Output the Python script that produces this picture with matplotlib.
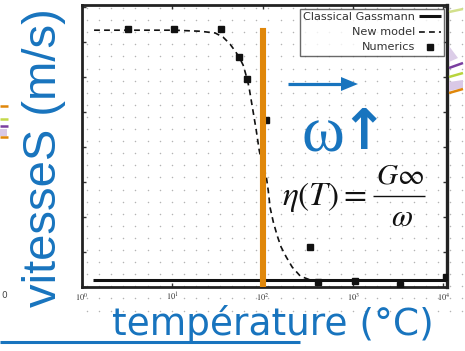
import numpy as np
import matplotlib
matplotlib.use("Agg")
import matplotlib.pyplot as plt
from matplotlib.patches import Polygon, Rectangle

# ---- data -------------------------------------------------------------
# frequency axis (log) and velocity values for the three models
gassmann_f = [1.32, 10800]
gassmann_v = [0.20, 0.20]

newmodel_f = [1.36, 3.2, 10.5, 20.3, 29.8, 36.5, 43.6, 49.6, 54.9, 60.8, 64, 67.3,
              70.8, 74.6, 78.5, 84.7, 91.5, 98.7, 109, 115, 121, 131, 145, 160,
              182, 212, 261, 336, 434]
newmodel_v = [7.34, 7.34, 7.34, 7.31, 7.26, 7.14, 6.94, 6.74, 6.57, 6.34, 6.14, 5.94,
              5.69, 5.34, 5.00, 4.49, 3.91, 3.49, 3.20, 2.77, 2.26, 1.86, 1.46, 1.14,
              0.86, 0.57, 0.31, 0.20, 0.20]

numerics_f = [3.2, 10.5, 34.7, 55, 67, 109, 336, 412, 1059, 3340, 10800]
numerics_v = [7.37, 7.37, 7.37, 6.57, 5.94, 4.77, 1.14, 0.14, 0.17, 0.06, 0.29]

transition_f = 100          # vertical marker
tick_exponents = [0, 1, 2, 3, 4]
legend_labels = ["Classical Gassmann", "New model", "Numerics"]

BLUE = "#1874BE"
ORANGE = "#E0870A"
W, H = 465, 351

plt.rcParams["mathtext.fontset"] = "stix"
fig = plt.figure(figsize=(W / 100, H / 100), dpi=100, facecolor="white")

def fx(px):
    return px / W

def fy(py):
    return 1 - py / H

# background dotted page texture
bg = fig.add_axes([0, 0, 1, 1], zorder=0)
bg.set_xlim(0, W)
bg.set_ylim(H, 0)
bg.axis("off")
gx, gy = np.meshgrid(np.arange(87, 465, 12.1), np.arange(8, 322, 12.1))
bg.scatter(gx.ravel(), gy.ravel(), s=1.2, color="#b4b4b4", lw=0)

# main chart
ax = fig.add_axes([fx(82), fy(287), fx(447 - 82), (287 - 5) / H], zorder=1)
ax.patch.set_alpha(0)
ax.set_xscale("log")
ax.set_xlim(1, 10 ** 4.04)
ax.set_ylim(0, 8.06)

ax.plot(gassmann_f, gassmann_v, color="#111111", lw=2.2, solid_capstyle="butt",
        label=legend_labels[0], zorder=3)
ax.plot(newmodel_f, newmodel_v, color="#111111", lw=1.2, ls=(0, (3.5, 2.5)),
        label=legend_labels[1], zorder=3)
ax.plot(numerics_f, numerics_v, ls="none", marker="s", ms=3.8, color="#111111",
        label=legend_labels[2], zorder=4)
ax.axvline(transition_f, ymin=0, ymax=(287 - 31) / 282, color=ORANGE, lw=4.4, zorder=5)

ax.set_xticks([10.0 ** e for e in tick_exponents])
ax.set_xticklabels([rf"$10^{{{e}}}$" for e in tick_exponents], fontsize=6,
                   color="#444444")
ax.xaxis.set_minor_locator(matplotlib.ticker.NullLocator())
ax.set_yticks(np.arange(0, 9))
ax.set_yticklabels([])
ax.tick_params(direction="in", length=3, width=1, top=True, right=True,
               colors="#333333", pad=3)
for side, lw in (("left", 2), ("bottom", 2), ("top", 2), ("right", 2.4)):
    ax.spines[side].set_linewidth(lw)
    ax.spines[side].set_color("#222222")

leg = ax.legend(loc="upper right", bbox_to_anchor=(fx(444), fy(9)),
                bbox_transform=fig.transFigure, markerfirst=False,
                fontsize=8.1, frameon=True, fancybox=False, borderpad=0.3,
                labelspacing=0.45, handlelength=1.9, handletextpad=0.4,
                borderaxespad=0)
leg.get_frame().set_edgecolor("#444444")
leg.get_frame().set_linewidth(1.0)
for t in leg.get_texts():
    t.set_color("#333333")

# overlay annotations in pixel coordinates
ov = fig.add_axes([0, 0, 1, 1], zorder=2)
ov.set_xlim(0, W)
ov.set_ylim(H, 0)
ov.axis("off")

ov.plot([288, 343], [84, 84], color=BLUE, lw=2.3, solid_capstyle="butt")
ov.add_patch(Polygon([(341, 77), (358, 84), (341, 91)], closed=True, color=BLUE, lw=0))
ov.plot([0, 300], [341.5, 341.5], color=BLUE, lw=2.2, solid_capstyle="butt")

# fragments of the neighbouring chart at the edges
edge_segments = [
    ((0, 8), (106, 106), "#E0870A"),
    ((0, 8), (119, 119), "#C4D94A"),
    ((0, 8), (126, 126), "#7A3FA0"),
    ((0, 8), (137, 137), "#E0870A"),
    ((449, 463), (12, 9), "#D2E08C"),
    ((449, 463), (68, 63), "#7A3FA0"),
    ((449, 463), (77, 73), "#B8D43C"),
    ((449, 463), (93, 89), "#E0870A"),
]
for xs, ys, c in edge_segments:
    ov.plot(xs, ys, color=c, lw=1.8, solid_capstyle="butt")
ov.add_patch(Rectangle((0, 129), 7, 7, color="#D9C8E6", lw=0))
ov.add_patch(Polygon([(449, 46), (458, 58), (449, 62)], closed=True, color="#DCCDE8", lw=0))
ov.add_patch(Polygon([(449, 82), (463, 80), (463, 88), (449, 91)], closed=True,
                     color="#D9C8E6", lw=0))
ov.text(7, 295, "0", fontsize=6.5, color="#444444", ha="right", va="center")

# fraction bar of the viscosity formula
ov.plot([373, 425], [196, 196], color="#111111", lw=1.0, solid_capstyle="butt")

# axis titles and annotations
fig.text(fx(44.5), fy(157.5), "vitesseS (m/s)", rotation=90, ha="center",
         va="center", fontsize=34, color=BLUE, family="Liberation Sans")
fig.text(fx(112), fy(335), "température (°C)", ha="left", va="baseline",
         fontsize=27, color=BLUE, family="DejaVu Sans")
fig.text(fx(302), fy(152), "ω", ha="left", va="baseline", fontsize=47,
         color=BLUE, family="Liberation Serif")
fig.text(fx(364), fy(107), "↑", ha="center", va="top", fontsize=40,
         fontweight="bold", color=BLUE, family="DejaVu Sans")
fig.text(fx(282), fy(205), r"$\eta(T) =$", ha="left", va="baseline",
         fontsize=24, color="#111111")
fig.text(fx(400), fy(183), r"$G\infty$", ha="center", va="baseline",
         fontsize=21, color="#111111")
fig.text(fx(402), fy(226), r"$\omega$", ha="center", va="baseline",
         fontsize=22, color="#111111")

fig.savefig("out.png", dpi=100, facecolor="white")
